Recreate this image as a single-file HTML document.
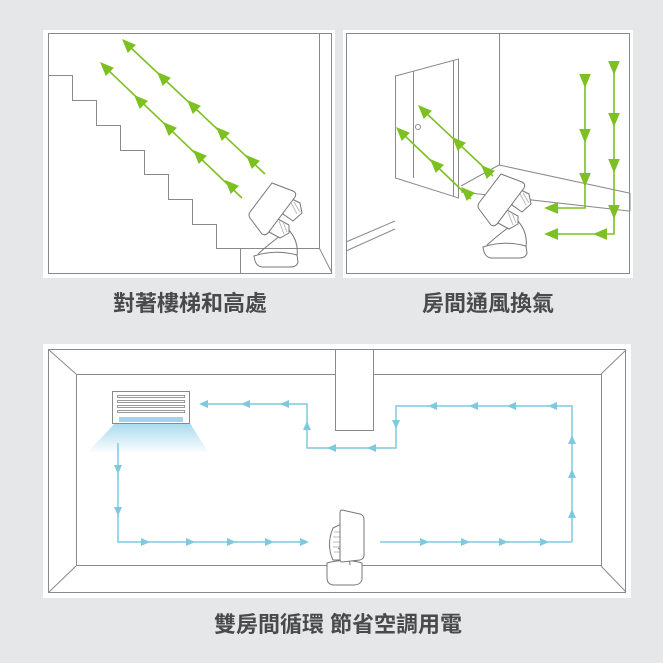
<!DOCTYPE html>
<html><head><meta charset="utf-8"><style>
html,body{margin:0;padding:0;background:#e6e7e9;}
svg{display:block}
text{font-family:"Liberation Sans","Noto Sans CJK TC",sans-serif;font-weight:bold;fill:#4a4a4a;font-size:22px}
</style></head><body>
<svg width="663" height="663" viewBox="0 0 663 663" xmlns="http://www.w3.org/2000/svg">
<defs>
<marker id="g" markerWidth="14" markerHeight="14" refX="6" refY="5" orient="auto" markerUnits="userSpaceOnUse" viewBox="0 0 12 10"><path d="M0,0 L12,5 L0,10 Z" fill="#7dc021"/></marker>
<marker id="b" markerWidth="9" markerHeight="9" refX="5" refY="4" orient="auto" markerUnits="userSpaceOnUse" viewBox="0 0 9 8"><path d="M0,0 L9,4 L0,8 Z" fill="#7ec8e0"/></marker>
<linearGradient id="cold" x1="0" y1="0" x2="0" y2="1"><stop offset="0" stop-color="#9fd6ec"/><stop offset="1" stop-color="#9fd6ec" stop-opacity="0.05"/></linearGradient>
<g id="fan" fill="#fff" stroke="#777" stroke-width="1">
<path d="M254,256 Q275,249 297,255 L298,262 Q297,267 290,267 L262,267 Q255,266 254,256 Z"/>
<path d="M287,228 Q299,240 297,256 M280,236 Q268,245 258,254" fill="none"/>
<path d="M288,197 L300,203 L302,213 L293,221 L283,214 Z"/>
<path d="M276,218 L289,225 L289,233 L280,238 L269,232 Z"/>
<path d="M290,201 L297,214 M294,202 L300,212 M279,221 L284,234 M283,222 L287,232" stroke="#bbb"/>
<path d="M272,183 L293,191 Q297,193 295,197 L268,233 Q265,236 262,234 L250,218 Q248,215 250,212 Z"/>
</g>
</defs>
<rect x="43" y="30" width="292" height="248" fill="#fff"/>
<rect x="343" y="30" width="290" height="248" fill="#fff"/>
<rect x="43" y="344" width="588" height="254" fill="#fff"/>
<g fill="none" stroke="#8a8a8a" stroke-width="1">
<rect x="48.5" y="33.5" width="283" height="240"/>
<line x1="319.5" y1="33" x2="319.5" y2="248"/>
<path d="M49,75.5 H72.5 V100.5 H96.5 V125.5 H120.5 V150.5 H144.5 V174.5 H168.5 V199.5 H192.5 V224.5 H216.5 V248.5 H319.5 L332,273"/>
<line x1="240.5" y1="248" x2="240.5" y2="273"/>
<rect x="346.5" y="33.5" width="283" height="240"/>
<line x1="499.5" y1="33" x2="499.5" y2="165"/>
<path d="M499,165 L629,193 M461,186 L499,165 M461,192 L629,211 M630,193 L630,211"/>
<path d="M395.5,76 L458.5,59 L458.5,198 L395.5,178 Z"/>
<line x1="413.5" y1="71" x2="413.5" y2="178"/>
<line x1="453.5" y1="60" x2="453.5" y2="196"/>
<path d="M346,242 L395,221 M346,251 L395,229"/>
<circle cx="418" cy="127" r="2.5"/>
<rect x="48.5" y="349.5" width="577" height="243"/>
<rect x="76.5" y="374.5" width="525" height="191"/>
<path d="M49,350 L76,374 M626,350 L601,374 M49,592 L76,566 M626,592 L601,566"/>
</g>
<rect x="335.5" y="349.5" width="38" height="81" fill="#fff" stroke="#8a8a8a"/>
<path d="M88,452 L208,452 L188,420 L118,420 Z" fill="url(#cold)"/>
<rect x="112.5" y="391.5" width="77" height="32" fill="#fff" stroke="#888"/>
<g stroke="#999" fill="none"><rect x="117.5" y="395.5" width="67" height="2"/><rect x="117.5" y="400.5" width="67" height="2"/><rect x="117.5" y="405.5" width="67" height="2"/><rect x="117.5" y="410.5" width="67" height="2"/></g>
<rect x="119" y="417" width="64" height="5" fill="#9fd6ec"/>
<!-- green lines -->
<g stroke="#7dc021" stroke-width="1.6" fill="none">
<line x1="265" y1="174" x2="129" y2="46"/>
<line x1="242" y1="198" x2="107" y2="69"/>
<line x1="493" y1="176" x2="425" y2="112"/>
<line x1="471" y1="199" x2="403" y2="134"/>
<polyline points="585,76 585,208 550,208"/>
<polyline points="614,63 614,234 550,234"/>
</g>
<g stroke="#7dc021" stroke-width="1.6" fill="none" marker-end="url(#g)">
<line x1="128.5" y1="45.5" x2="127" y2="44"/><line x1="163.5" y1="78.5" x2="162" y2="77"/><line x1="193.5" y1="106.5" x2="192" y2="105"/><line x1="222.5" y1="133.5" x2="221" y2="132"/><line x1="252.5" y1="161.5" x2="251" y2="160"/>
<line x1="106.5" y1="68.5" x2="105" y2="67"/><line x1="140.5" y1="101.5" x2="139" y2="100"/><line x1="169.5" y1="128.5" x2="168" y2="127"/><line x1="199.5" y1="156.5" x2="198" y2="155"/><line x1="231.5" y1="186.5" x2="230" y2="185"/>
<line x1="424.5" y1="111.5" x2="423" y2="110"/><line x1="458.5" y1="143.5" x2="457" y2="142"/><line x1="487.5" y1="171.5" x2="486" y2="170"/>
<line x1="402.5" y1="133.5" x2="401" y2="132"/><line x1="436.5" y1="165.5" x2="435" y2="164"/><line x1="467.5" y1="193.5" x2="466" y2="192"/>
<line x1="585" y1="79" x2="585" y2="81"/><line x1="585" y1="134" x2="585" y2="136"/><line x1="585" y1="178" x2="585" y2="180"/>
<line x1="614" y1="66" x2="614" y2="68"/><line x1="614" y1="118" x2="614" y2="120"/><line x1="614" y1="164" x2="614" y2="166"/><line x1="614" y1="210" x2="614" y2="212"/>
<line x1="553" y1="208" x2="551" y2="208"/><line x1="553" y1="234" x2="551" y2="234"/><line x1="602" y1="234" x2="600" y2="234"/>
</g>
<!-- blue flow -->
<g stroke="#7ec8e0" stroke-width="1.5" fill="none">
<polyline points="572,542 572,406 396,406 396,448 307,448 307,404 205,404"/>
<polyline points="118,443 118,542 305,542"/>
<line x1="380" y1="542" x2="572" y2="542"/>
</g>
<g stroke="#7ec8e0" stroke-width="1.5" fill="none" marker-end="url(#b)">
<line x1="205" y1="404" x2="203" y2="404"/><line x1="246" y1="404" x2="245" y2="404"/><line x1="285" y1="404" x2="284" y2="404"/>
<line x1="307" y1="426" x2="307" y2="425"/>
<line x1="332" y1="448" x2="331" y2="448"/><line x1="372" y1="448" x2="371" y2="448"/>
<line x1="396" y1="424" x2="396" y2="425"/>
<line x1="433" y1="406" x2="432" y2="406"/><line x1="474" y1="406" x2="473" y2="406"/><line x1="512" y1="406" x2="511" y2="406"/><line x1="553" y1="406" x2="552" y2="406"/>
<line x1="572" y1="514" x2="572" y2="513"/><line x1="572" y1="474" x2="572" y2="473"/><line x1="572" y1="440" x2="572" y2="439"/>
<line x1="424" y1="542" x2="425" y2="542"/><line x1="465" y1="542" x2="466" y2="542"/><line x1="503" y1="542" x2="504" y2="542"/><line x1="544" y1="542" x2="545" y2="542"/>
<line x1="118" y1="469" x2="118" y2="470"/><line x1="118" y1="511" x2="118" y2="512"/>
<line x1="145" y1="542" x2="146" y2="542"/><line x1="190" y1="542" x2="191" y2="542"/><line x1="231" y1="542" x2="232" y2="542"/><line x1="269" y1="542" x2="270" y2="542"/><line x1="304" y1="542" x2="305" y2="542"/>
</g>
<use href="#fan"/>
<use href="#fan" transform="translate(229,-9)"/>
<g fill="#fff" stroke="#777" stroke-width="1">
<path d="M327,563 Q345,558 362,563 L362,580 Q360,585 354,585 L333,585 Q327,584 327,578 Z"/>
<path d="M333,528 L341,524 L342,560 L333,560 Q326,545 333,528 Z"/>
<path d="M334,532 H341 M333,537 H341 M333,542 H341 M333,547 H341 M334,552 H341" stroke="#bbb"/>
<path d="M338,548 Q350,555 350,565" fill="none"/>
<path d="M342,510 L360,514 Q364,515 364,520 L364,555 Q364,559 360,560 L342,562 Q340,562 340,559 L340,513 Q340,510 342,510 Z"/>
</g>
<text x="190" y="311" text-anchor="middle">對著樓梯和高處</text>
<text x="488" y="311" text-anchor="middle">房間通風換氣</text>
<text x="338" y="632" text-anchor="middle">雙房間循環 節省空調用電</text>
</svg>
</body></html>
